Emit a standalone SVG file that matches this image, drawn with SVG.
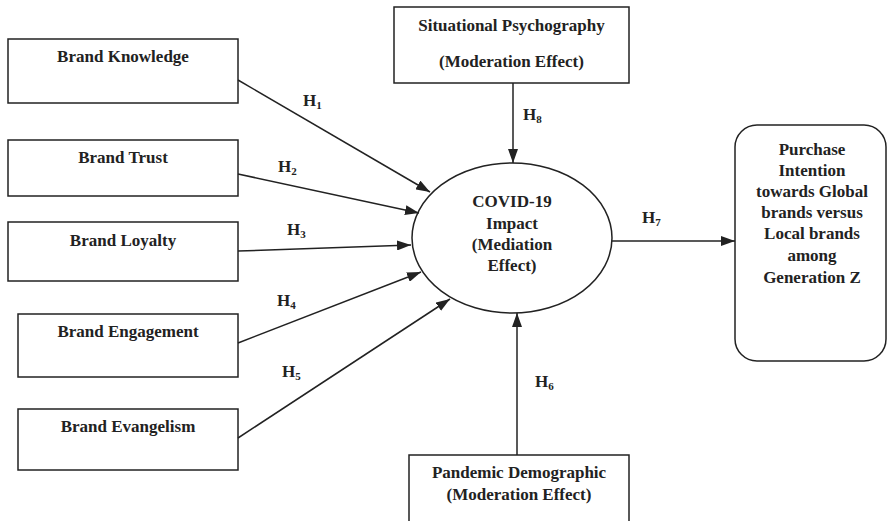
<svg xmlns="http://www.w3.org/2000/svg" width="887" height="521" viewBox="0 0 887 521">
<style>
.box{fill:#fff;stroke:#222;stroke-width:1.5}
.t{font-family:"Liberation Serif","Times New Roman",serif;font-weight:bold;font-size:17px;fill:#222;text-anchor:middle}
.h{font-family:"Liberation Serif","Times New Roman",serif;font-weight:bold;font-size:17px;fill:#222}
.sub{font-size:11px}
.c{stroke:#222;stroke-width:1.5;fill:none;marker-end:url(#ah)}
</style>
<defs>
<marker id="ah" viewBox="0 0 14 10" refX="14" refY="5" markerWidth="14" markerHeight="10" markerUnits="userSpaceOnUse" orient="auto">
<path d="M0,0 L14,5 L0,10 Z" fill="#222"/>
</marker>
</defs>
<rect width="887" height="521" fill="#fff"/>
<g id="brand-knowledge"><rect class="box" x="8" y="39" width="230" height="64"/><text class="t" x="123" y="62">Brand Knowledge</text></g>
<g id="brand-trust"><rect class="box" x="8" y="140" width="230" height="56"/><text class="t" x="123" y="163">Brand Trust</text></g>
<g id="brand-loyalty"><rect class="box" x="8" y="222" width="230" height="59"/><text class="t" x="123" y="246">Brand Loyalty</text></g>
<g id="brand-engagement"><rect class="box" x="18" y="314" width="220" height="63"/><text class="t" x="128" y="337">Brand Engagement</text></g>
<g id="brand-evangelism"><rect class="box" x="18" y="409" width="220" height="61"/><text class="t" x="128" y="432">Brand Evangelism</text></g>
<g id="situational"><rect class="box" x="394" y="7" width="235" height="76"/><text class="t" x="511.5" y="31">Situational Psychography</text><text class="t" x="511.5" y="67">(Moderation Effect)</text></g>
<g id="pandemic"><rect class="box" x="409" y="455" width="220" height="80"/><text class="t" x="519" y="478">Pandemic Demographic</text><text class="t" x="519" y="500">(Moderation Effect)</text></g>
<g id="covid"><ellipse class="box" cx="512" cy="238" rx="100" ry="75"/><text class="t" x="512" y="207">COVID-19</text><text class="t" x="512" y="229">Impact</text><text class="t" x="512" y="250">(Mediation</text><text class="t" x="512" y="271">Effect)</text></g>
<g id="purchase"><rect class="box" x="735" y="125" width="151" height="236" rx="22" ry="22"/>
<text class="t" x="812" y="155">Purchase</text><text class="t" x="812" y="176">Intention</text><text class="t" x="812" y="197">towards Global</text><text class="t" x="812" y="218">brands versus</text><text class="t" x="812" y="239">Local brands</text><text class="t" x="812" y="261">among</text><text class="t" x="812" y="283">Generation Z</text></g>
<g id="connectors">
<line class="c" x1="238" y1="80" x2="430" y2="192"/>
<line class="c" x1="238" y1="174" x2="419" y2="213"/>
<line class="c" x1="238" y1="251" x2="411" y2="245"/>
<line class="c" x1="238" y1="343" x2="421" y2="272"/>
<line class="c" x1="238" y1="438" x2="450" y2="299"/>
<line class="c" x1="513" y1="83" x2="513" y2="163"/>
<line class="c" x1="517" y1="455" x2="517" y2="313"/>
<line class="c" x1="612" y1="241" x2="735" y2="241"/>
</g>
<g id="labels">
<text class="h" x="303" y="106">H<tspan class="sub" dy="3">1</tspan></text>
<text class="h" x="278" y="172">H<tspan class="sub" dy="3">2</tspan></text>
<text class="h" x="287" y="235">H<tspan class="sub" dy="3">3</tspan></text>
<text class="h" x="277" y="306">H<tspan class="sub" dy="3">4</tspan></text>
<text class="h" x="282" y="377">H<tspan class="sub" dy="3">5</tspan></text>
<text class="h" x="535" y="387">H<tspan class="sub" dy="3">6</tspan></text>
<text class="h" x="642" y="223">H<tspan class="sub" dy="3">7</tspan></text>
<text class="h" x="523" y="120">H<tspan class="sub" dy="3">8</tspan></text>
</g>
</svg>
